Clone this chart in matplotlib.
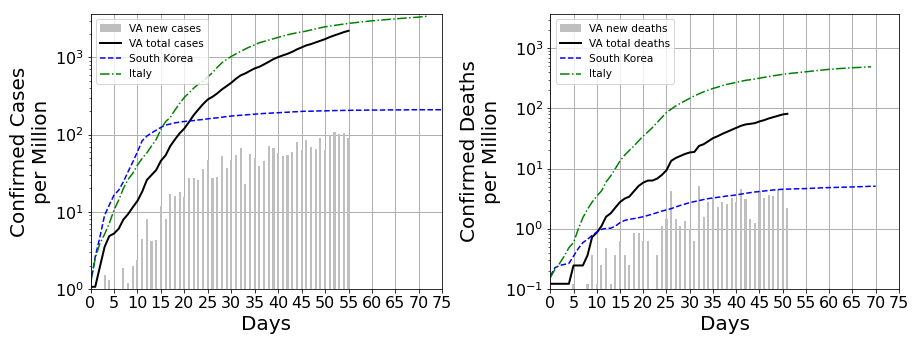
import numpy as np
import matplotlib
matplotlib.use("Agg")
import matplotlib.pyplot as plt

# ---- Virginia cases per million (day index from first case) ----
va_case_days = list(range(0, 56))
va_total_cases = [1.06, 1.06, 1.93, 3.5, 4.83, 5.2, 6.0, 7.9, 9.3, 11.4,
                  13.8, 18.1, 25.7, 29.9, 34.7, 45.7, 53.7, 71, 86.6, 104,
                  120, 146, 179, 212, 249, 286, 309, 342, 385, 425,
                  470, 530, 586, 622, 672, 722, 758, 815, 880, 953,
                  1012, 1065, 1117, 1186, 1274, 1352, 1436, 1493, 1570, 1648,
                  1733, 1840, 1937, 2030, 2134, 2220]
va_new_cases = [0, 0, 0, 1.5, 1.3, 0, 0, 1.85, 1.2, 1.99,
                2.36, 4.45, 7.94, 4.2, 4.28, 11.8, 8.0, 17.1, 15.9, 18.1,
                15.6, 27.3, 27.3, 25.7, 35.7, 46.7, 27.3, 28.1, 52.6, 36.8,
                46.7, 54.2, 66.8, 22.8, 55.9, 49.6, 39.0, 45.3, 71.0, 66.8,
                57.5, 52.6, 54.2, 59.3, 80.0, 63.0, 85.0, 68.9, 64.9, 90.1,
                63.0, 98.6, 107.7, 101.4, 104.5, 90.1]

# ---- South Korea cases per million ----
kor_case_days = list(range(0, 76))
kor_cases = [1.15, 2.6, 4.7, 9.0, 12.2, 16.4, 19.0, 24.4, 33.0, 44.0,
             59.8, 83.0, 95.6, 105, 114, 124, 133, 137, 142, 145,
             148, 150, 152, 155, 157, 160, 163, 165, 168, 171,
             174, 176, 178, 180, 182, 184, 186, 188, 189, 191,
             192, 194, 195, 197, 198, 200, 201, 201, 202, 203,
             203, 204, 205, 205, 206, 206, 207, 207, 207, 208,
             208, 208, 208, 209, 209, 209, 209, 209, 210, 210,
             210, 210, 210, 210, 210, 210]

# ---- Italy cases per million ----
ita_case_days = list(range(0, 73))
ita_cases = [1.17, 2.48, 3.88, 5.1, 7.05, 10.5, 14.1, 20.0, 26.2, 31.4,
             40.2, 49.1, 58.0, 71.0, 86.6, 117, 147, 167, 208, 254,
             304, 348, 401, 452, 494, 562, 634, 743, 853, 944,
             1032, 1115, 1200, 1290, 1377, 1465, 1552, 1617, 1682, 1752,
             1823, 1897, 1971, 2032, 2093, 2147, 2200, 2278, 2355, 2428,
             2500, 2555, 2608, 2660, 2715, 2767, 2812, 2858, 2902, 2946,
             2990, 3027, 3064, 3100, 3137, 3174, 3208, 3242, 3276, 3310,
             3342, 3392, 3443]

# ---- Virginia deaths per million ----
va_death_days = list(range(0, 52))
va_total_deaths = [0.121, 0.121, 0.121, 0.121, 0.121, 0.244, 0.244, 0.244, 0.359, 0.725,
                   0.857, 1.1, 1.58, 1.8, 2.24, 2.77, 3.16, 3.41, 4.19, 5.13,
                   5.84, 6.31, 6.31, 6.81, 7.82, 9.37, 13.4, 15.0, 16.2, 17.5,
                   18.5, 18.9, 23.8, 25.4, 28.5, 32.0, 34.5, 37.7, 40.7, 44.0,
                   47.5, 51.3, 54.1, 55.4, 56.9, 60.7, 63.8, 68.1, 71.6, 75.4,
                   79.4, 81.3]
va_new_deaths = [0, 0, 0, 0, 0, 0.118, 0, 0, 0.118, 0.359,
                 0.118, 0.244, 0.482, 0.118, 0.359, 0.614, 0.359, 0.244, 0.835, 0.835,
                 0.614, 0.614, 0, 0.359, 1.09, 1.43, 4.19, 1.43, 1.09, 1.32,
                 1.0, 0.614, 5.07, 1.54, 2.77, 3.2, 2.26, 2.77, 2.54, 3.2,
                 2.77, 4.52, 3.08, 1.43, 1.22, 4.19, 3.2, 3.59, 3.45, 4.4,
                 4.52, 2.18]

# ---- South Korea deaths per million ----
kor_death_days = list(range(0, 71))
kor_deaths = [0.162, 0.224, 0.244, 0.254, 0.264, 0.349, 0.464, 0.585, 0.664, 0.773,
              0.877, 0.973, 1.01, 1.02, 1.1, 1.26, 1.37, 1.43, 1.47, 1.52,
              1.58, 1.66, 1.75, 1.85, 1.96, 2.05, 2.15, 2.3, 2.44, 2.57,
              2.71, 2.82, 2.93, 3.05, 3.16, 3.24, 3.32, 3.4, 3.49, 3.56,
              3.63, 3.75, 3.87, 3.97, 4.07, 4.15, 4.23, 4.31, 4.4, 4.46,
              4.52, 4.55, 4.57, 4.6, 4.62, 4.64, 4.68, 4.72, 4.76, 4.79,
              4.82, 4.84, 4.87, 4.89, 4.92, 4.94, 4.97, 5.0, 5.03, 5.07,
              5.08]

# ---- Italy deaths per million ----
ita_death_days = list(range(0, 70))
ita_deaths = [0.153, 0.21, 0.264, 0.349, 0.482, 0.585, 0.973, 1.52, 2.1, 2.77,
              3.49, 4.23, 5.98, 7.53, 10.0, 13.4, 16.7, 20.0, 23.8, 28.8,
              34.9, 40.7, 48.2, 58.4, 70.8, 85.8, 97.3, 110, 122, 134,
              147, 162, 175, 189, 202, 215, 226, 239, 251, 261,
              271, 282, 293, 300, 308, 318, 329, 339, 349, 359,
              369, 377, 385, 392, 400, 407, 415, 423, 431, 439,
              447, 453, 459, 464, 470, 475, 479, 483, 488, 493]

day_ticks = list(range(0, 80, 5))

BAR_COLOR = "#bfbfbf"
TICK_SIZE = 16
LABEL_SIZE = 20


def draw_panel(ax, bar_days, bar_vals, tot_days, tot_vals, kor_days, kor_vals,
               ita_days, ita_vals, bar_label, tot_label, ylabel, ylim):
    b = ax.bar(bar_days, bar_vals, width=0.45, color=BAR_COLOR, label=bar_label)
    l1, = ax.plot(tot_days, tot_vals, color="k", lw=2.0, label=tot_label)
    l2, = ax.plot(kor_days, kor_vals, color="b", ls="--", lw=1.5, label="South Korea")
    l3, = ax.plot(ita_days, ita_vals, color="g", ls="-.", lw=1.5, label="Italy")
    ax.set_yscale("log")
    ax.set_xlim(0, 75)
    ax.set_ylim(*ylim)
    ax.set_xticks(day_ticks)
    ax.tick_params(axis="both", which="major", labelsize=TICK_SIZE)
    ax.grid(True, which="major", color="#b0b0b0", lw=1.0)
    ax.set_axisbelow(True)
    ax.set_xlabel("Days", fontsize=LABEL_SIZE)
    ax.set_ylabel(ylabel, fontsize=LABEL_SIZE)
    ax.legend(handles=[b, l1, l2, l3], loc="upper left", fontsize=10.5,
              handlelength=2.0)


fig = plt.figure(figsize=(921 / 72, 345 / 72), dpi=72)
ax1 = fig.add_axes([0.0983, 0.163, 0.382, 0.796])
ax2 = fig.add_axes([0.5975, 0.163, 0.3785, 0.796])

draw_panel(ax1, va_case_days, va_new_cases, va_case_days, va_total_cases,
           kor_case_days, kor_cases, ita_case_days, ita_cases,
           "VA new cases", "VA total cases", "Confirmed Cases\nper Million",
           (1, 3650))
draw_panel(ax2, va_death_days, va_new_deaths, va_death_days, va_total_deaths,
           kor_death_days, kor_deaths, ita_death_days, ita_deaths,
           "VA new deaths", "VA total deaths", "Confirmed Deaths\nper Million",
           (0.1, 3700))

fig.savefig("out.png", dpi=72)
